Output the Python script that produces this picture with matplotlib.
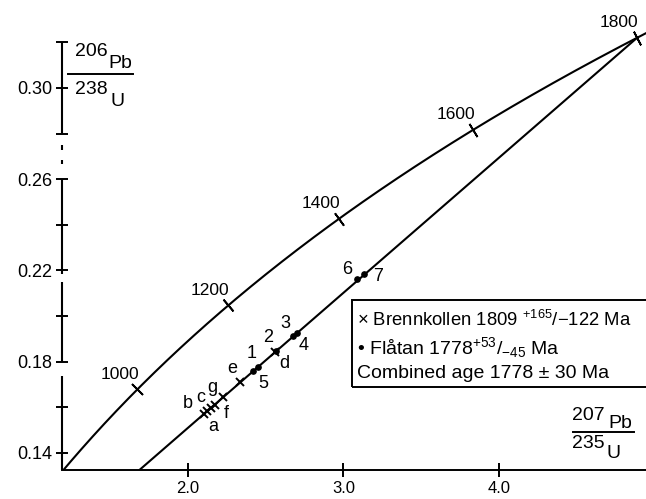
import numpy as np
import matplotlib
matplotlib.use("Agg")
import matplotlib.pyplot as plt
import matplotlib.transforms as mtransforms
from matplotlib.patches import Rectangle

plt.rcParams['font.family'] = ['Liberation Sans', 'DejaVu Sans']
plt.rcParams['mathtext.fontset'] = 'custom'
plt.rcParams['mathtext.rm'] = 'Liberation Sans'
plt.rcParams['mathtext.it'] = 'Liberation Sans'

# decay constants (1/yr)
L238 = 1.55125e-10
L235 = 9.8485e-10

conc_ages = [1000, 1200, 1400, 1600, 1800]  # Ma, labelled on concordia

discordia_x = [1.69, 4.886]
discordia_y = [0.1324, 0.3221]

brenn_labels = ['a', 'b', 'c', 'f', 'g', 'e', 'd']
brenn_x = [2.105, 2.124, 2.150, 2.175, 2.226, 2.336, 2.560]
brenn_y = [0.1570, 0.1583, 0.1596, 0.1611, 0.1644, 0.1710, 0.1842]

flatan_labels = ['5', '1', '2', '3', '4', '6', '7']
flatan_x = [2.419, 2.451, 2.566, 2.676, 2.701, 3.087, 3.132]
flatan_y = [0.1758, 0.1778, 0.1846, 0.1912, 0.1925, 0.2162, 0.2184]

x_ticks = [2.0, 3.0, 4.0]
x_ticklabels = ['2.0', '3.0', '4.0']
y_major = [0.14, 0.18, 0.22, 0.26, 0.30]
y_minor = [0.16, 0.20, 0.24, 0.28, 0.32]

legend_lines = [
    r"× Brennkollen 1809 $^{+165}$/$-$122 Ma",
    r"• Flåtan 1778$^{+53}$/$_{-45}$ Ma",
    "Combined age 1778 ± 30 Ma",
]

# label offsets in pixels (dx, dy)
brenn_off = {'a': (9, -13), 'b': (-19, 7), 'c': (-10, 11), 'f': (11, -9),
             'g': (-11, 10), 'e': (-8, 14), 'd': (9, -12)}
flatan_off = {'5': (10, -12), '1': (-6, 13), '2': (-8, 14), '3': (-8, 12),
              '4': (7, -12), '6': (-10, 9), '7': (14, -3)}

W, H = 646, 499
fig = plt.figure(figsize=(W / 100, H / 100), dpi=100)
ax = fig.add_axes([62 / W, 29 / H, (W - 62) / W, (H - 29) / H])
ax.set_xlim(1.193, 4.942)
ax.set_ylim(0.1324, 0.3386)

LW = 1.5

# concordia
t = np.linspace(700, 1900, 500) * 1e6
cx = np.exp(L235 * t) - 1
cy = np.exp(L238 * t) - 1
ax.plot(cx, cy, color='black', lw=LW, solid_capstyle='butt')

# discordia
ax.plot(discordia_x, discordia_y, color='black', lw=LW)

# ticks and labels on the concordia
for age in conc_ages:
    tt = age * 1e6
    px = np.exp(L235 * tt) - 1
    py = np.exp(L238 * tt) - 1
    dx = L235 * np.exp(L235 * tt)
    dy = L238 * np.exp(L238 * tt)
    p0 = ax.transData.transform((px, py))
    p1 = ax.transData.transform((px + dx * 1e7, py + dy * 1e7))
    theta = np.degrees(np.arctan2(p1[1] - p0[1], p1[0] - p0[0]))
    ax.plot(px, py, marker=(2, 2, theta), markersize=11, mew=1.3,
            color='black', clip_on=False)
    ax.annotate(str(age), (px, py), xytext=(-18, 15), textcoords='offset pixels',
                ha='center', va='center', fontsize=12.5)

# data points
ax.plot(brenn_x, brenn_y, 'x', color='black', markersize=5.5, mew=1.4)
ax.plot(flatan_x, flatan_y, 'o', color='black', markersize=3.8)
for lab, x, y in zip(brenn_labels, brenn_x, brenn_y):
    ax.annotate(lab, (x, y), xytext=brenn_off[lab], textcoords='offset pixels',
                ha='center', va='center', fontsize=13)
for lab, x, y in zip(flatan_labels, flatan_x, flatan_y):
    ax.annotate(lab, (x, y), xytext=flatan_off[lab], textcoords='offset pixels',
                ha='center', va='center', fontsize=13)

# axes styling
for s in ['top', 'right', 'left']:
    ax.spines[s].set_visible(False)
ax.spines['bottom'].set_linewidth(1.4)
ax.set_xticks(x_ticks)
ax.set_xticklabels(x_ticklabels)
ax.tick_params(axis='x', direction='inout', length=10, width=1.4,
               labelsize=12, pad=3)
ax.set_yticks(y_major)
ax.set_yticklabels([f'{v:.2f}' for v in y_major])
ax.set_yticks(y_minor, minor=True)
ax.tick_params(axis='y', which='both', direction='inout', length=8, width=1.4,
               labelsize=13, pad=3)

# broken y axis line
trans = mtransforms.blended_transform_factory(ax.transAxes, ax.transData)
y_segments = [(0.3202, 0.2803), (0.2748, 0.2728), (0.2686, 0.2666),
              (0.2601, 0.2185), (0.2150, 0.1799), (0.1735, 0.1324)]
for y0, y1 in y_segments:
    ax.plot([0, 0], [y0, y1], color='black', lw=1.5, transform=trans,
            clip_on=False, solid_capstyle='butt')


def fpos(x, y):
    return x / W, 1 - y / H


# y axis label (206Pb / 238U)
fig.text(*fpos(91, 52), '206', fontsize=14, ha='center', va='center')
fig.text(*fpos(120, 63), 'Pb', fontsize=14, ha='center', va='center')
fig.add_artist(plt.Line2D([68 / W, 133 / W], [1 - 74 / H, 1 - 74 / H],
                          color='black', lw=1.4))
fig.text(*fpos(91, 90), '238', fontsize=14, ha='center', va='center')
fig.text(*fpos(117, 101), 'U', fontsize=14, ha='center', va='center')

# x axis label (207Pb / 235U)
fig.text(*fpos(588, 415), '207', fontsize=14, ha='center', va='center')
fig.text(*fpos(620, 423), 'Pb', fontsize=14, ha='center', va='center')
fig.add_artist(plt.Line2D([573 / W, 634 / W], [1 - 432 / H, 1 - 432 / H],
                          color='black', lw=1.4))
fig.text(*fpos(588, 443), '235', fontsize=14, ha='center', va='center')
fig.text(*fpos(613, 453), 'U', fontsize=14, ha='center', va='center')

# legend box (runs off the right edge, as in the original scan)
fig.add_artist(Rectangle((352 / W, 1 - 387 / H), (700 - 352) / W, 87 / H,
                         transform=fig.transFigure, fill=False, lw=1.4,
                         edgecolor='black'))
for txt, ypx, fs in zip(legend_lines, [320, 348, 374], [13.3, 14, 14]):
    fig.text(*fpos(357, ypx), txt, fontsize=fs, ha='left', va='center')

fig.savefig('out.png', dpi=100)
